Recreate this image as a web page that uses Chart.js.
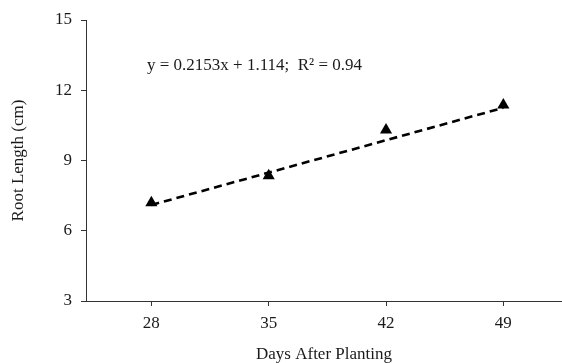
<!DOCTYPE html>
<html>
<head>
<meta charset="utf-8">
<script src="https://cdn.jsdelivr.net/npm/chart.js@4/dist/chart.umd.min.js"></script>
<style>
  html, body { margin: 0; padding: 0; background: #fff; }
  #wrap { width: 562px; height: 363px; }
</style>
</head>
<body>
<div id="wrap"><canvas id="c" width="562" height="363"></canvas></div>
<script>
const days = [28, 35, 42, 49];
const rootLength = [7.2, 8.35, 10.3, 11.37];
const trendDays = [28, 49];
const trendValues = [7.1, 11.25];
const yTicks = [3, 6, 9, 12, 15];
const equationText = 'y = 0.2153x + 1.114;  R\u00B2 = 0.94';

const serif = "'Liberation Serif', 'DejaVu Serif', serif";
const ink = '#1a1a1a';
const axisColor = '#333333';

const equationPlugin = {
  id: 'equation',
  afterDatasetsDraw(chart) {
    const { ctx, chartArea } = chart;
    ctx.save();
    ctx.font = '17px ' + serif;
    ctx.fillStyle = ink;
    ctx.textAlign = 'left';
    ctx.textBaseline = 'middle';
    ctx.fillText(equationText, chartArea.left + 61, chartArea.top + 46);
    ctx.restore();
  }
};

new Chart(document.getElementById('c'), {
  type: 'scatter',
  data: {
    datasets: [
      {
        label: 'Trend',
        data: trendDays.map((d, i) => ({ x: d, y: trendValues[i] })),
        showLine: true,
        borderColor: '#000',
        borderWidth: 2.6,
        borderDash: [8, 5],
        pointRadius: 0,
        fill: false,
        order: 2
      },
      {
        label: 'Root length',
        data: days.map((d, i) => ({ x: d, y: rootLength[i] })),
        pointStyle: 'triangle',
        pointRadius: 7,
        backgroundColor: '#000',
        borderColor: '#000',
        borderWidth: 0,
        order: 1
      }
    ]
  },
  options: {
    responsive: false,
    animation: false,
    layout: { autoPadding: false, padding: { top: 20, right: 0, left: 0, bottom: 0 } },
    plugins: {
      legend: { display: false },
      tooltip: { enabled: false }
    },
    scales: {
      x: {
        type: 'linear',
        min: 24.1,
        max: 52.5,
        afterBuildTicks(scale) { scale.ticks = days.map(v => ({ value: v })); },
        afterFit(scale) { scale.height = 62; scale.paddingLeft = 0; scale.paddingRight = 0; },
        grid: { drawOnChartArea: false, drawTicks: true, tickLength: 5, color: axisColor, lineWidth: 1 },
        border: { display: true, color: axisColor, width: 1 },
        ticks: { color: ink, font: { family: serif, size: 17 }, padding: 7, maxRotation: 0 },
        title: { display: true, text: 'Days After Planting', color: ink, font: { family: serif, size: 17, lineHeight: 1 }, padding: { top: 0, bottom: 0 } }
      },
      y: {
        type: 'linear',
        min: 3,
        max: 15,
        afterBuildTicks(scale) { scale.ticks = yTicks.map(v => ({ value: v })); },
        afterFit(scale) { scale.width = 86; scale.paddingTop = 0; scale.paddingBottom = 0; },
        grid: { drawOnChartArea: false, drawTicks: true, tickLength: 5, color: axisColor, lineWidth: 1 },
        border: { display: true, color: axisColor, width: 1 },
        ticks: { color: ink, font: { family: serif, size: 17 }, padding: 9 },
        title: { display: true, text: 'Root Length (cm)', color: ink, font: { family: serif, size: 17, lineHeight: 1 }, padding: { top: 10, bottom: 0 } }
      }
    }
  },
  plugins: [equationPlugin]
});
</script>
</body>
</html>
